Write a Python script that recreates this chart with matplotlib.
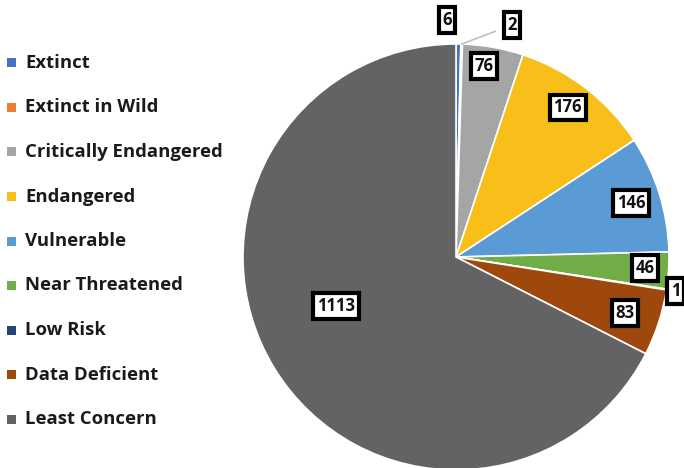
import matplotlib
matplotlib.use("Agg")
import matplotlib.pyplot as plt
import numpy as np
from matplotlib.patches import Rectangle

categories = ["Extinct", "Extinct in Wild", "Critically Endangered", "Endangered",
              "Vulnerable", "Near Threatened", "Low Risk", "Data Deficient", "Least Concern"]
values = [6, 2, 76, 176, 146, 46, 1, 83, 1113]
colors = ["#4472C4", "#ED7D31", "#A5A5A5", "#F8BE1A", "#5B9BD5", "#70AD47",
          "#264478", "#9E480E", "#636363"]

# label positions in pie-radius units (layout only)
label_pos = [(-0.042, 1.113), (0.263, 1.089), (0.131, 0.897), (0.524, 0.702),
             (0.822, 0.254), (0.887, -0.052), (1.03, -0.16), (0.793, -0.263),
             (-0.563, -0.230)]

W, H = 684, 468
fig = plt.figure(figsize=(W / 100, H / 100), dpi=100)
cx, cy, R = 456, 257, 213
ax = fig.add_axes([(cx - R) / W, (H - cy - R) / H, 2 * R / W, 2 * R / H])

wedges, _ = ax.pie(values, colors=colors, startangle=90, counterclock=False,
                   radius=1.0, wedgeprops=dict(edgecolor="white", linewidth=1.2))
ax.set_xlim(-1, 1)
ax.set_ylim(-1, 1)
ax.set_aspect("auto")
ax.axis("off")
for w in wedges:
    w.set_clip_on(False)

# leader line for the small "2" slice
tot = sum(values)
ang = np.deg2rad(90 - 360 * (values[0] + values[1] / 2) / tot)
ax.plot([np.cos(ang) * 1.0, label_pos[1][0] - 0.08], [np.sin(ang) * 1.0, label_pos[1][1] - 0.03],
        color="#BFBFBF", lw=1.2, clip_on=False)

for v, (x, y) in zip(values, label_pos):
    ax.text(x, y, str(v), ha="center", va="center", fontsize=12, fontweight="bold",
            family="Open Sans", clip_on=False, color="#111111",
            bbox=dict(boxstyle="square,pad=0.22", facecolor="white", edgecolor="black", linewidth=3))

# legend (manual)
for i, (c, name) in enumerate(zip(colors, categories)):
    ypx = 63 + 44.5 * i
    fig.patches.append(Rectangle((7 / W, 1 - (ypx + 4.5) / H), 9 / W, 9 / H,
                                 transform=fig.transFigure, facecolor=c, edgecolor="none"))
    fig.text(25 / W, 1 - ypx / H, name, ha="left", va="center", fontsize=13.3,
             fontweight="bold", family="Open Sans", color="#1a1a1a")

fig.savefig("out.png", dpi=100)
